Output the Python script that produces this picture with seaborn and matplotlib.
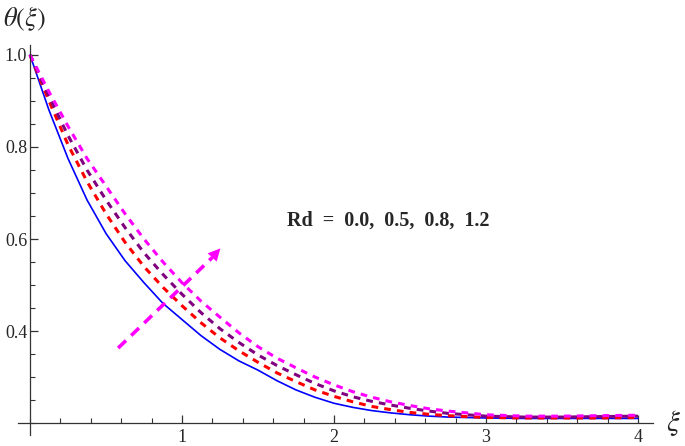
import numpy as np
import pandas as pd
import matplotlib
matplotlib.use("Agg")
import matplotlib.pyplot as plt
from matplotlib.ticker import MultipleLocator
import seaborn as sns

# values
xi = [0.0, 0.125, 0.25, 0.375, 0.5, 0.625, 0.75, 0.875, 1.0, 1.125, 1.25, 1.375,
      1.5, 1.625, 1.75, 1.875, 2.0, 2.125, 2.25, 2.375, 2.5, 2.625, 2.75, 2.875,
      3.0, 3.25, 3.5, 3.75, 4.0]
theta_rd00 = [1.0, 0.88, 0.775, 0.685, 0.612, 0.553, 0.505, 0.46, 0.425, 0.39, 0.36, 0.335,
              0.315, 0.292, 0.272, 0.256, 0.243, 0.234, 0.227, 0.222, 0.218, 0.215, 0.213, 0.212,
              0.211, 0.210, 0.210, 0.210, 0.210]
theta_rd05 = [1.0, 0.90, 0.805, 0.725, 0.655, 0.593, 0.54, 0.495, 0.455, 0.418, 0.385, 0.357,
              0.332, 0.309, 0.29, 0.272, 0.258, 0.246, 0.236, 0.229, 0.223, 0.219, 0.216, 0.214,
              0.212, 0.211, 0.211, 0.211, 0.212]
theta_rd08 = [1.0, 0.91, 0.825, 0.75, 0.685, 0.625, 0.57, 0.523, 0.48, 0.44, 0.405, 0.375,
              0.348, 0.325, 0.305, 0.286, 0.27, 0.257, 0.247, 0.239, 0.232, 0.226, 0.221, 0.218,
              0.215, 0.213, 0.213, 0.214, 0.215]
theta_rd12 = [1.0, 0.92, 0.845, 0.775, 0.715, 0.655, 0.60, 0.55, 0.505, 0.465, 0.43, 0.396,
              0.366, 0.341, 0.32, 0.30, 0.283, 0.268, 0.256, 0.246, 0.238, 0.231, 0.226, 0.222,
              0.218, 0.215, 0.215, 0.216, 0.217]

series = [theta_rd00, theta_rd05, theta_rd08, theta_rd12]
colors = ["#0000ff", "#ff0000", "#800080", "#ff00ff"]
styles = ["-", (0, (2.2, 2.0)), (0, (2.2, 2.0)), (0, (2.2, 2.0))]
widths = [1.2, 2.2, 2.2, 2.2]

sns.set_style("white")
plt.rcParams["font.family"] = ["Liberation Serif", "DejaVu Serif"]
plt.rcParams["mathtext.fontset"] = "stix"

fig = plt.figure(figsize=(6.85, 4.46), dpi=100)
ax = fig.add_axes([18 / 685, 1 - 435 / 446, (653 - 18) / 685, (435 - 45) / 446])

for ys, c, ls, lw in zip(series, colors, styles, widths):
    df = pd.DataFrame({"xi": xi, "theta": ys})
    sns.lineplot(data=df, x="xi", y="theta", ax=ax, color=c, linestyle=ls,
                 linewidth=lw, sort=False, estimator=None)

ax.set_xlim(-0.079, 4.099)
ax.set_ylim(0.174, 1.0217)
ax.set_xlabel("")
ax.set_ylabel("")

# Mathematica-style axes crossing at (0, 0.2)
ax.spines["top"].set_visible(False)
ax.spines["right"].set_visible(False)
ax.spines["left"].set_position(("data", 0))
ax.spines["bottom"].set_position(("data", 0.2))
for s in ["left", "bottom"]:
    ax.spines[s].set_linewidth(0.9)
    ax.spines[s].set_color("#333333")

ax.set_xticks([1, 2, 3, 4])
ax.set_yticks([0.4, 0.6, 0.8, 1.0])
ax.set_yticklabels(["0.4", "0.6", "0.8", "1.0"])
ax.xaxis.set_minor_locator(MultipleLocator(0.2))
ax.yaxis.set_minor_locator(MultipleLocator(0.05))
ax.tick_params(which="both", bottom=True, left=True, top=False, right=False)
ax.tick_params(which="major", direction="in", length=6, width=0.9, color="#333333",
               labelsize=13, pad=4)
ax.tick_params(which="minor", direction="in", length=3.5, width=0.8, color="#333333")
ax.tick_params(axis="y", which="major", pad=2)

# arrow showing increasing Rd
ax.plot([0.58, 1.20], [0.363, 0.560], color="#ff00ff", linewidth=2.6,
        linestyle=(0, (3.0, 2.0)))
ax.annotate("", xy=(1.265, 0.584), xytext=(1.16, 0.546),
            arrowprops=dict(arrowstyle="-|>", color="#ff00ff", lw=0,
                            mutation_scale=22))

ax.text(1.69, 0.639, "Rd  =  0.0,  0.5,  0.8,  1.2", fontsize=14.5,
        fontweight="bold", ha="left", va="center")

fig.text(3 / 685, 1 - 19 / 446, r"$\theta(\xi)$", fontsize=19, ha="left", va="center")
fig.text(673 / 685, 1 - 423 / 446, r"$\xi$", fontsize=21, ha="center", va="center")

fig.savefig("out.png", dpi=100)
